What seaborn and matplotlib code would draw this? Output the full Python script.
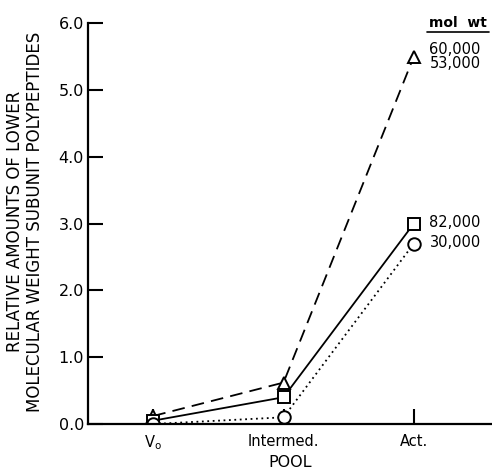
import matplotlib
matplotlib.use("Agg")
import matplotlib.pyplot as plt
import seaborn as sns
import pandas as pd

pools = ["V$_\\mathregular{o}$", "Intermed.", "Act."]
pool_pos = [0, 1, 2]
tri_vals = [0.12, 0.62, 5.5]     # 60,000 / 53,000
sq_vals = [0.05, 0.40, 3.0]      # 82,000
circ_vals = [0.0, 0.10, 2.7]     # 30,000
y_ticks = [0, 1, 2, 3, 4, 5, 6]
y_ticklabels = ["0.0", "1.0", "2.0", "3.0", "4.0", "5.0", "6.0"]

sns.set_theme(style="ticks")
plt.rcParams["font.family"] = ["DejaVu Sans"]
for k in ["text.color", "axes.labelcolor", "xtick.color", "ytick.color", "axes.edgecolor"]:
    plt.rcParams[k] = "black"

fig = plt.figure(figsize=(4.92, 4.71), dpi=100)
ax = fig.add_axes([0.179, 0.0998, 0.821, 0.851])

series = [
    (tri_vals, "^", (0, (7, 4))),
    (sq_vals, "s", "-"),
    (circ_vals, "o", (0, (1, 2))),
]
for vals, mk, ls in series:
    df = pd.DataFrame({"x": pool_pos, "y": vals})
    sns.lineplot(data=df, x="x", y="y", ax=ax, color="black", linewidth=1.3,
                 linestyle=ls, marker=mk, markersize=9, markerfacecolor="white",
                 markeredgecolor="black", markeredgewidth=1.4, legend=False)

ax.set_xlim(-0.5, 2.6)
ax.set_ylim(0, 6)
ax.set_yticks(y_ticks)
ax.set_yticklabels(y_ticklabels, fontsize=11.5)
ax.set_xticks(pool_pos)
ax.set_xticklabels(pools, fontsize=10.5)
ax.tick_params(axis="both", direction="in", length=11, width=1.5, color="black",
               labelcolor="black", pad=3)
ax.tick_params(axis="x", pad=7)
for s in ["top", "right"]:
    ax.spines[s].set_visible(False)
for s in ["left", "bottom"]:
    ax.spines[s].set_linewidth(1.6)
    ax.spines[s].set_color("black")

ax.set_xlabel("POOL", fontsize=11.5, labelpad=2)
ax.set_ylabel("RELATIVE AMOUNTS OF LOWER\nMOLECULAR WEIGHT SUBUNIT POLYPEPTIDES",
              fontsize=12, linespacing=1.15)
ax.yaxis.set_label_coords(-0.11, 0.505)

# annotations
ax.text(2.12, 6.0, "mol  wt", fontsize=10, fontweight="bold", ha="left", va="center",
        clip_on=False)
ax.plot([2.1, 2.58], [5.87, 5.87], color="black", lw=1.2, clip_on=False)
ax.text(2.12, 5.5, "60,000\n53,000", fontsize=10.5, ha="left", va="center",
        linespacing=0.95)
ax.text(2.12, 3.02, "82,000", fontsize=10.5, ha="left", va="center")
ax.text(2.12, 2.72, "30,000", fontsize=10.5, ha="left", va="center")

fig.savefig("out.png", dpi=100)
